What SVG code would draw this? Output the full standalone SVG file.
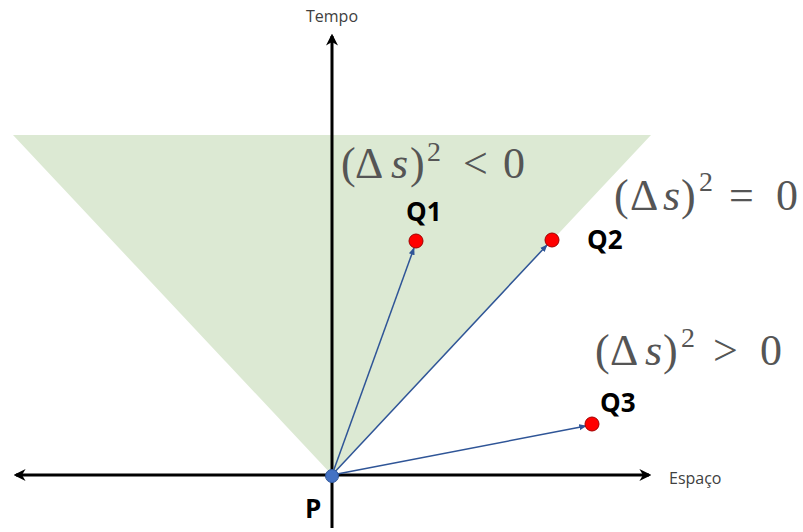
<svg xmlns="http://www.w3.org/2000/svg" width="803" height="532" viewBox="0 0 803 532">
<style>
.axis{stroke:#000;stroke-width:3;fill:none}
.vec{stroke:#2F5597;stroke-width:1.5;fill:none}
.pt{fill:#FF0000;stroke:#A00000;stroke-width:1}
.lbl{font-family:"Open Sans","Liberation Sans",sans-serif;font-weight:bold;font-size:26px;fill:#000}
.ax{font-family:"Open Sans","Liberation Sans",sans-serif;font-size:16px;fill:#404040}
.math{font-family:"Liberation Serif",serif;font-size:44px;fill:#555}
.sup{font-size:28px}
.it{font-style:italic}
</style>
<defs>
<marker id="ah" viewBox="0 0 10 10" refX="8" refY="5" markerWidth="4" markerHeight="4" orient="auto" markerUnits="strokeWidth"><path d="M0,0 L10,5 L0,10 L3,5 z" fill="#000"/></marker>
<marker id="va" viewBox="0 0 10 10" refX="9" refY="5" markerWidth="5" markerHeight="5" orient="auto" markerUnits="strokeWidth"><path d="M0,1 L10,5 L0,9 z" fill="#2F5597"/></marker>
</defs>
<g id="cone"><polygon points="13,135 651,135 332,475" fill="#DCE9D3"/></g>
<g id="connectors">
<line class="axis" x1="332" y1="528" x2="332" y2="36" marker-end="url(#ah)"/>
<line class="axis" x1="332" y1="475" x2="16" y2="475" marker-end="url(#ah)"/>
<line class="axis" x1="332" y1="475" x2="649" y2="475" marker-end="url(#ah)"/>
<line class="vec" x1="332" y1="475" x2="414" y2="248" marker-end="url(#va)"/>
<line class="vec" x1="332" y1="475" x2="547" y2="245" marker-end="url(#va)"/>
<line class="vec" x1="332" y1="475" x2="586" y2="426" marker-end="url(#va)"/>
</g>
<g id="P"><circle cx="332" cy="476" r="6.5" fill="#4472C4" stroke="#2F5597" stroke-width="1"/><text class="lbl" x="305" y="518">P</text></g>
<g id="Q1"><circle class="pt" cx="416" cy="241" r="7"/><text class="lbl" x="406" y="221">Q1</text></g>
<g id="Q2"><circle class="pt" cx="552" cy="240" r="7"/><text class="lbl" x="587" y="249">Q2</text></g>
<g id="Q3"><circle class="pt" cx="592" cy="424" r="7"/><text class="lbl" x="600" y="412">Q3</text></g>
<g id="labels">
<text class="ax" x="332" y="22" text-anchor="middle">Tempo</text>
<text class="ax" x="669" y="484">Espaço</text>
<text class="math" y="178"><tspan x="341">(</tspan><tspan x="355">Δ</tspan><tspan class="it" x="391">s</tspan><tspan x="410">)</tspan><tspan class="sup" x="427" y="161">2</tspan><tspan x="463" y="178">&lt;</tspan><tspan x="503">0</tspan></text>
<text class="math" y="210"><tspan x="614">(</tspan><tspan x="630">Δ</tspan><tspan class="it" x="663">s</tspan><tspan x="681">)</tspan><tspan class="sup" x="699" y="191">2</tspan><tspan x="729" y="210">=</tspan><tspan x="776">0</tspan></text>
<text class="math" y="365"><tspan x="595">(</tspan><tspan x="610">Δ</tspan><tspan class="it" x="645">s</tspan><tspan x="663">)</tspan><tspan class="sup" x="681" y="347">2</tspan><tspan x="713" y="365">&gt;</tspan><tspan x="760">0</tspan></text>
</g>
</svg>
